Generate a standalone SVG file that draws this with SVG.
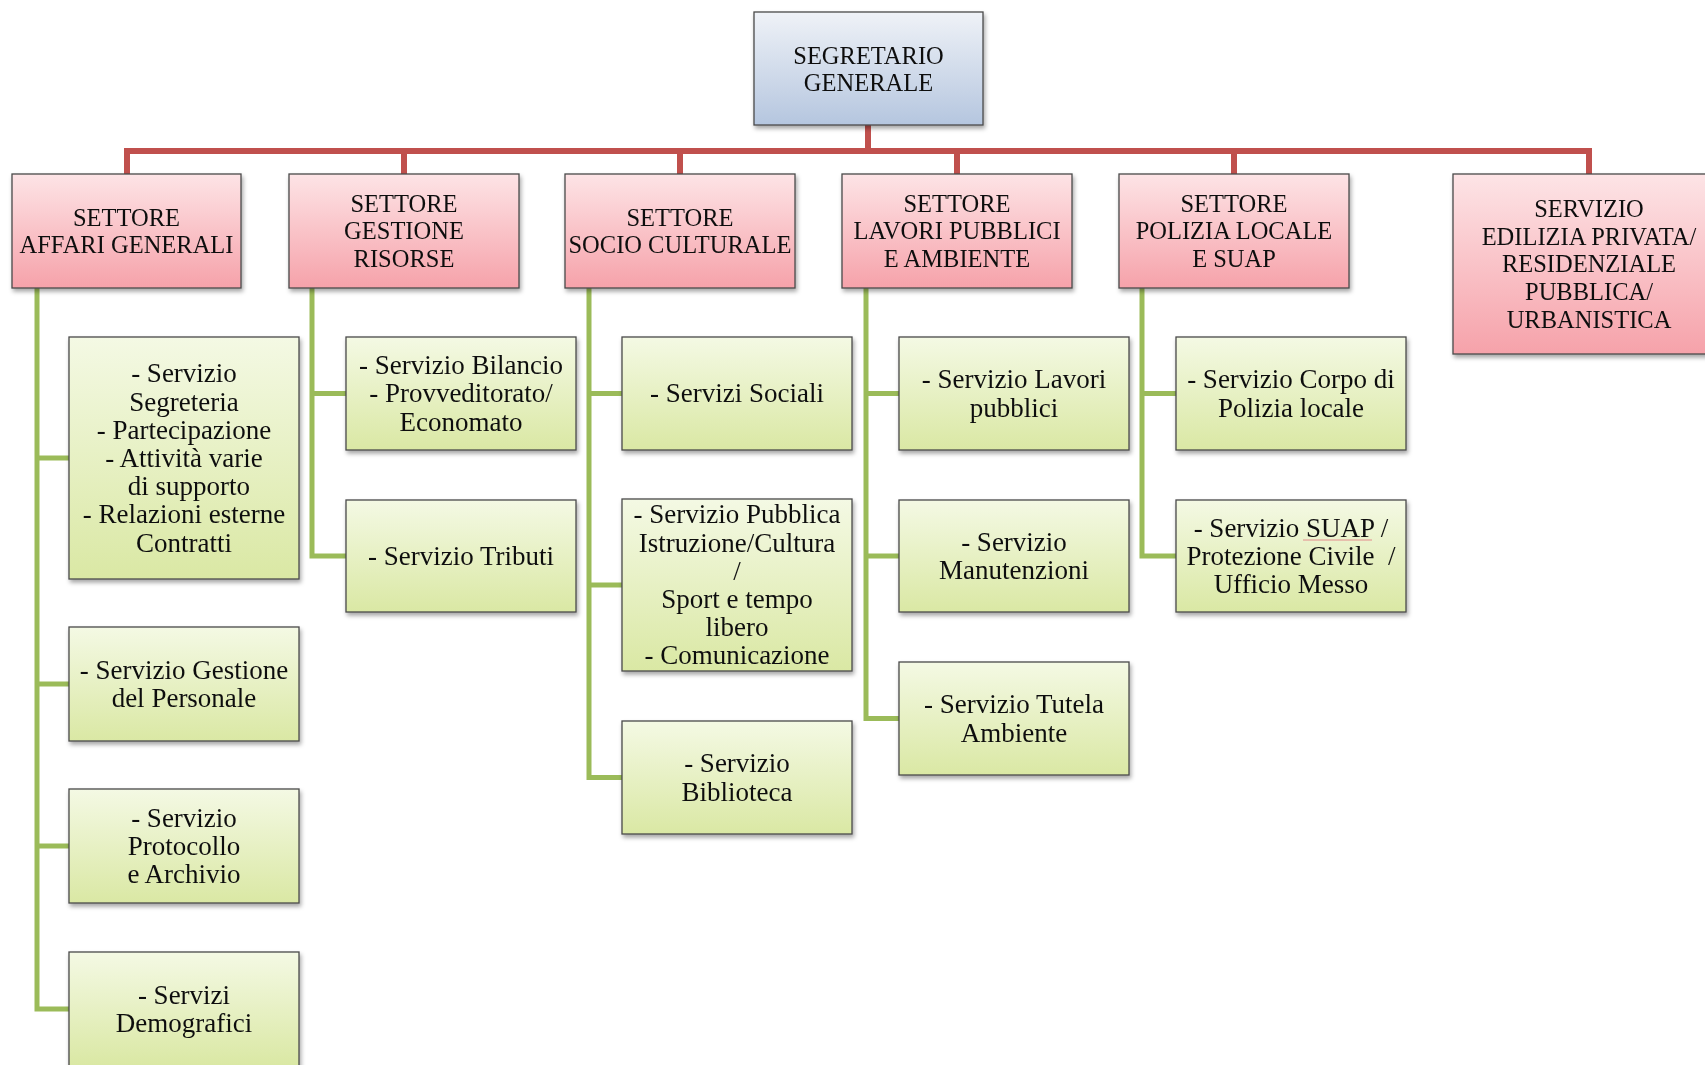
<svg xmlns="http://www.w3.org/2000/svg" width="1705" height="1065" viewBox="0 0 1705 1065">
<style>
text{font-family:"Liberation Serif","Times New Roman",serif;fill:#111;text-anchor:middle}
.s{font-size:24.5px}
.c{font-size:27px}
.box{stroke:#4a4a4a;stroke-width:1.3}
.top{fill:url(#gBlue)}
.sec{fill:url(#gPink)}
.ch{fill:url(#gGreen)}
.red{fill:none;stroke:#C0504D;stroke-width:6}
.grn{fill:none;stroke:#9BBB59;stroke-width:5}
</style>
<defs>
<linearGradient id="gBlue" x1="0" y1="0" x2="0" y2="1"><stop offset="0" stop-color="#EFF2F7"/><stop offset="1" stop-color="#B5C6DF"/></linearGradient>
<linearGradient id="gPink" x1="0" y1="0" x2="0" y2="1"><stop offset="0" stop-color="#FDE4E6"/><stop offset="1" stop-color="#F6A2AA"/></linearGradient>
<linearGradient id="gGreen" x1="0" y1="0" x2="0" y2="1"><stop offset="0" stop-color="#F4F9E4"/><stop offset="1" stop-color="#DAE8A4"/></linearGradient>
<filter id="sh" x="-10%" y="-10%" width="125%" height="130%"><feDropShadow dx="1.5" dy="3" stdDeviation="2" flood-color="#000" flood-opacity="0.35"/></filter>
</defs>
<rect width="1705" height="1065" fill="#fff"/>

<g id="connectors">
<path class="red" d="M868,125V151M127,174V151H1589V174M404,151V174M680,151V174M957,151V174M1234,151V174"/>
<path class="grn" d="M37,288V1009H69M37,458H69M37,684H69M37,846H69"/>
<path class="grn" d="M312,288V556H346M312,393.5H346"/>
<path class="grn" d="M589,288V777.5H622M589,393.5H622M589,585H622"/>
<path class="grn" d="M866,288V718.5H899M866,393.5H899M866,556H899"/>
<path class="grn" d="M1142,288V556H1176M1142,393.5H1176"/>
</g>

<g id="segretario" filter="url(#sh)"><rect class="box top" x="754" y="12" width="229" height="113"/>
<text class="s" x="868.5" y="63.5">SEGRETARIO</text><text class="s" x="868.5" y="91">GENERALE</text></g>

<g id="affari" filter="url(#sh)"><rect class="box sec" x="12" y="174" width="229" height="114"/>
<text class="s" x="126.5" y="225.5">SETTORE</text><text class="s" x="126.5" y="253">AFFARI GENERALI</text></g>
<g id="gestione" filter="url(#sh)"><rect class="box sec" x="289" y="174" width="230" height="114"/>
<text class="s" x="404" y="211.6">SETTORE</text><text class="s" x="404" y="239.3">GESTIONE</text><text class="s" x="404" y="267">RISORSE</text></g>
<g id="socio" filter="url(#sh)"><rect class="box sec" x="565" y="174" width="230" height="114"/>
<text class="s" x="680" y="225.5">SETTORE</text><text class="s" x="680" y="253">SOCIO CULTURALE</text></g>
<g id="lavori" filter="url(#sh)"><rect class="box sec" x="842" y="174" width="230" height="114"/>
<text class="s" x="957" y="211.6">SETTORE</text><text class="s" x="957" y="239.3">LAVORI PUBBLICI</text><text class="s" x="957" y="267">E AMBIENTE</text></g>
<g id="polizia" filter="url(#sh)"><rect class="box sec" x="1119" y="174" width="230" height="114"/>
<text class="s" x="1234" y="211.6">SETTORE</text><text class="s" x="1234" y="239.3">POLIZIA LOCALE</text><text class="s" x="1234" y="267">E SUAP</text></g>
<g id="edilizia" filter="url(#sh)"><rect class="box sec" x="1453" y="174" width="272" height="180"/>
<text class="s" x="1589" y="217">SERVIZIO</text><text class="s" x="1589" y="244.6">EDILIZIA PRIVATA/</text><text class="s" x="1589" y="272.3">RESIDENZIALE</text><text class="s" x="1589" y="300">PUBBLICA/</text><text class="s" x="1589" y="327.7">URBANISTICA</text></g>

<g id="segreteria" filter="url(#sh)"><rect class="box ch" x="69" y="337" width="230" height="242"/>
<text class="c" x="184" y="382.3">- Servizio</text><text class="c" x="184" y="410.5">Segreteria</text><text class="c" x="184" y="438.7">- Partecipazione</text><text class="c" x="184" y="466.9">- Attività varie</text><text class="c" x="189" y="495.1">di supporto</text><text class="c" x="184" y="523.3">- Relazioni esterne</text><text class="c" x="184" y="551.5">Contratti</text></g>
<g id="personale" filter="url(#sh)"><rect class="box ch" x="69" y="627" width="230" height="114"/>
<text class="c" x="184" y="678.8">- Servizio Gestione</text><text class="c" x="184" y="707">del Personale</text></g>
<g id="protocollo" filter="url(#sh)"><rect class="box ch" x="69" y="789" width="230" height="114"/>
<text class="c" x="184" y="826.7">- Servizio</text><text class="c" x="184" y="854.9">Protocollo</text><text class="c" x="184" y="883.1">e Archivio</text></g>
<g id="demografici" filter="url(#sh)"><rect class="box ch" x="69" y="952" width="230" height="114"/>
<text class="c" x="184" y="1003.8">- Servizi</text><text class="c" x="184" y="1032">Demografici</text></g>

<g id="bilancio" filter="url(#sh)"><rect class="box ch" x="346" y="337" width="230" height="113"/>
<text class="c" x="461" y="374.2">- Servizio Bilancio</text><text class="c" x="461" y="402.4">- Provveditorato/</text><text class="c" x="461" y="430.6">Economato</text></g>
<g id="tributi" filter="url(#sh)"><rect class="box ch" x="346" y="500" width="230" height="112"/>
<text class="c" x="461" y="564.9">- Servizio Tributi</text></g>

<g id="sociali" filter="url(#sh)"><rect class="box ch" x="622" y="337" width="230" height="113"/>
<text class="c" x="737" y="402.4">- Servizi Sociali</text></g>
<g id="istruzione" filter="url(#sh)"><rect class="box ch" x="622" y="499" width="230" height="172"/>
<text class="c" x="737" y="523.4">- Servizio Pubblica</text><text class="c" x="737" y="551.6">Istruzione/Cultura</text><text class="c" x="737" y="579.8">/</text><text class="c" x="737" y="608">Sport e tempo</text><text class="c" x="737" y="636.2">libero</text><text class="c" x="737" y="664.4">- Comunicazione</text></g>
<g id="biblioteca" filter="url(#sh)"><rect class="box ch" x="622" y="721" width="230" height="113"/>
<text class="c" x="737" y="772.3">- Servizio</text><text class="c" x="737" y="800.5">Biblioteca</text></g>

<g id="lavoripubblici" filter="url(#sh)"><rect class="box ch" x="899" y="337" width="230" height="113"/>
<text class="c" x="1014" y="388.3">- Servizio Lavori</text><text class="c" x="1014" y="416.5">pubblici</text></g>
<g id="manutenzioni" filter="url(#sh)"><rect class="box ch" x="899" y="500" width="230" height="112"/>
<text class="c" x="1014" y="550.8">- Servizio</text><text class="c" x="1014" y="579">Manutenzioni</text></g>
<g id="ambiente" filter="url(#sh)"><rect class="box ch" x="899" y="662" width="230" height="113"/>
<text class="c" x="1014" y="713.3">- Servizio Tutela</text><text class="c" x="1014" y="741.5">Ambiente</text></g>

<g id="corpopolizia" filter="url(#sh)"><rect class="box ch" x="1176" y="337" width="230" height="113"/>
<text class="c" x="1291" y="388.3">- Servizio Corpo di</text><text class="c" x="1291" y="416.5">Polizia locale</text></g>
<g id="suap" filter="url(#sh)"><rect class="box ch" x="1176" y="500" width="230" height="112"/>
<text class="c" x="1291" y="536.7">- Servizio SUAP /</text><text class="c" x="1291" y="564.9" xml:space="preserve">Protezione Civile  /</text><text class="c" x="1291" y="593.1">Ufficio Messo</text>
<path d="M1303,540H1372" stroke="#E38C8C" stroke-width="1" fill="none"/></g>
</svg>
